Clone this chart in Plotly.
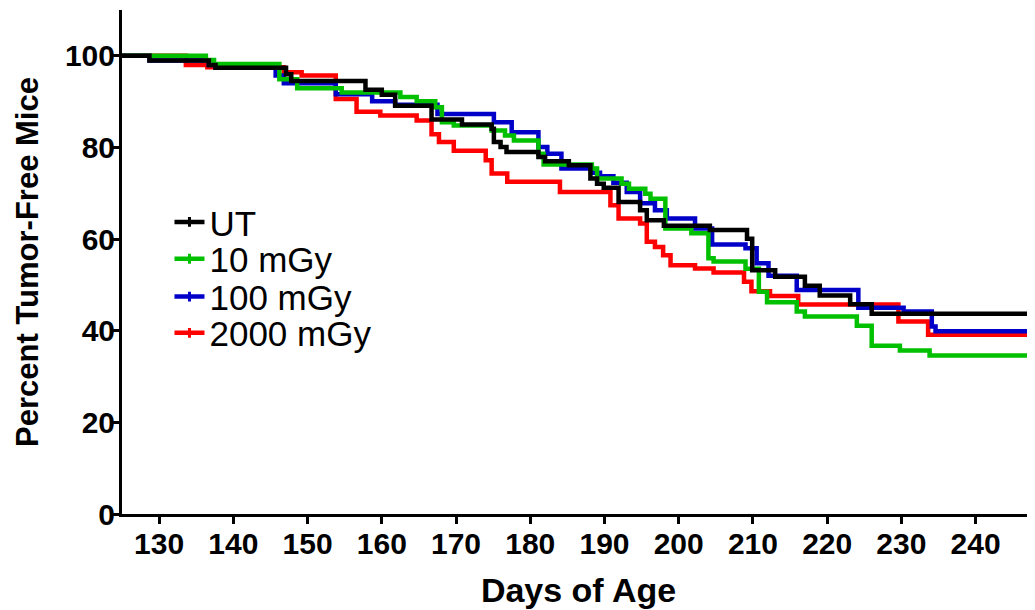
import plotly.graph_objects as go

# ---- data (days of age, percent tumor-free) ----
ut_days = [120, 128.7, 136.7, 137.6, 147.1, 147.8, 157.8, 160.0, 161.8, 166.7, 170.8, 174.8, 175.1,
           176.0, 176.8, 181.1, 182.0, 185.2, 188.1, 189.0, 189.9, 191.9, 194.8, 195.7, 198.0,
           204.2, 209.2, 209.9, 213.0, 217.0, 219.0, 223.1, 226.0, 250]
ut_pct = [100, 99.0, 98.0, 97.4, 96.0, 94.5, 92.6, 91.5, 89.1, 86.1, 85.0, 84.1, 81.2,
          80.1, 79.0, 77.9, 77.0, 76.1, 73.2, 72.1, 71.2, 68.1, 66.3, 64.1, 62.9,
          62.0, 60.1, 53.2, 51.8, 49.8, 47.7, 45.8, 43.7, 43.7]

g10_days = [120, 136.3, 137.4, 146.2, 148.6, 154.6, 162.5, 164.7, 167.2, 168.1, 169.7, 174.8, 176.6,
            177.8, 181.1, 181.8, 188.3, 189.0, 192.3, 193.3, 195.5, 196.2, 198.2, 201.7, 204.0,
            204.7, 209.0, 210.8, 211.9, 215.9, 217.0, 224.0, 226.0, 229.8, 233.8, 250]
g10_pct = [100, 99.1, 98.2, 94.9, 92.9, 92.0, 91.0, 90.1, 88.8, 85.5, 84.8, 83.7, 82.6,
           81.5, 78.6, 76.3, 75.4, 73.2, 72.1, 71.0, 69.9, 68.8, 62.3, 61.3, 55.8,
           55.1, 53.5, 48.5, 46.2, 44.2, 43.1, 41.1, 36.7, 35.7, 34.6, 34.6]

g100_days = [120, 128.7, 136.7, 137.6, 145.7, 146.8, 153.8, 158.7, 161.8, 167.5, 175.1, 177.5, 181.1,
             182.3, 184.2, 188.3, 189.4, 191.2, 193.0, 194.8, 196.8, 198.4, 202.2, 204.5, 209.0,
             210.5, 212.1, 215.9, 224.2, 230.3, 234.1, 234.6, 250]
g100_pct = [100, 99.0, 98.0, 97.4, 95.7, 94.0, 91.6, 90.1, 89.3, 87.3, 85.5, 83.3, 80.1,
            78.6, 75.4, 74.5, 73.7, 72.3, 70.3, 67.8, 66.3, 64.5, 62.3, 58.8, 58.0,
            54.7, 52.0, 48.9, 45.0, 44.2, 40.9, 39.9, 39.9]

g2000_days = [120, 133.6, 136.5, 146.8, 149.2, 153.8, 156.6, 159.8, 164.7, 166.7, 167.7, 169.7, 174.0,
              174.8, 176.9, 184.0, 190.8, 191.9, 194.8, 195.7, 196.8, 197.9, 198.9, 202.2, 204.7,
              208.8, 209.8, 212.3, 216.1, 229.6, 233.6, 250]
g2000_pct = [100, 98.0, 97.5, 96.4, 95.7, 90.6, 87.8, 87.0, 85.9, 82.9, 81.2, 79.3, 77.2,
             74.3, 72.5, 70.3, 67.4, 64.5, 63.4, 59.4, 58.3, 56.5, 54.3, 53.6, 52.7,
             50.7, 48.6, 47.6, 45.7, 42.0, 39.1, 39.1]

series_names = ["UT", "10 mGy", "100 mGy", "2000 mGy"]
series_colors = ["#000000", "#00c000", "#0000c8", "#ff0000"]
series_x = [ut_days, g10_days, g100_days, g2000_days]
series_y = [ut_pct, g10_pct, g100_pct, g2000_pct]

x_ticks = [130, 140, 150, 160, 170, 180, 190, 200, 210, 220, 230, 240]
y_ticks = [0, 20, 40, 60, 80, 100]

FONT = "Liberation Sans, Arial, sans-serif"
legend_ids = ["legend", "legend2", "legend3", "legend4"]
legend_y = [0.579, 0.506, 0.431, 0.359]

fig = go.Figure()

# draw red, blue, green, black (black on top)
for i in [3, 2, 1, 0]:
    fig.add_trace(go.Scatter(
        x=series_x[i], y=series_y[i], mode="lines", line_shape="hv",
        line=dict(color=series_colors[i], width=4.5),
        showlegend=False, hoverinfo="skip"))

# legend entries (with censor tick), one legend box each for tight spacing
for i in range(4):
    fig.add_trace(go.Scatter(
        x=[None], y=[None], mode="lines+markers", name=series_names[i],
        legend=legend_ids[i],
        line=dict(color=series_colors[i], width=4.5),
        marker=dict(symbol="line-ns-open", size=7,
                    line=dict(color=series_colors[i], width=3))))

legend_common = dict(xanchor="left", yanchor="middle",
                     font=dict(family=FONT, size=35, color="black"),
                     bgcolor="rgba(0,0,0,0)", itemwidth=30)
layout_legends = {}
for i, lid in enumerate(legend_ids):
    layout_legends[lid] = dict(x=0.052, y=legend_y[i], **legend_common)

# the page body has an 8px default margin, so the figure is sized to fit the window
fig.update_layout(
    width=1027, height=602,
    margin=dict(l=114, r=0, t=2, b=96, autoexpand=False),
    paper_bgcolor="white", plot_bgcolor="white",
    font=dict(family=FONT, color="black"),
    xaxis=dict(range=[125, 248], tickvals=x_ticks, ticktext=[str(v) for v in x_ticks],
               automargin=False,
               showgrid=False, zeroline=False, showline=True, linecolor="black", linewidth=3,
               ticks="outside", ticklen=7, tickwidth=2.5, tickcolor="black",
               ticklabelstandoff=-6,
               tickfont=dict(family=FONT, size=30, color="black", weight="bold"),
               title=dict(text="<b>Days of Age</b>", font=dict(family=FONT, size=34, color="black"),
                          standoff=20)),
    yaxis=dict(range=[0, 110], tickvals=y_ticks, ticktext=[str(v) for v in y_ticks],
               automargin=False,
               showgrid=False, zeroline=False, showline=True, linecolor="black", linewidth=3,
               ticks="outside", ticklen=7, tickwidth=2.5, tickcolor="black",
               ticklabelstandoff=-9,
               tickfont=dict(family=FONT, size=30, color="black", weight="bold"),
               title=dict(text="<b>Percent Tumor-Free Mice</b>", font=dict(family=FONT, size=31, color="black"),
                          standoff=18)),
    **layout_legends,
)

fig.write_html("out.html")
